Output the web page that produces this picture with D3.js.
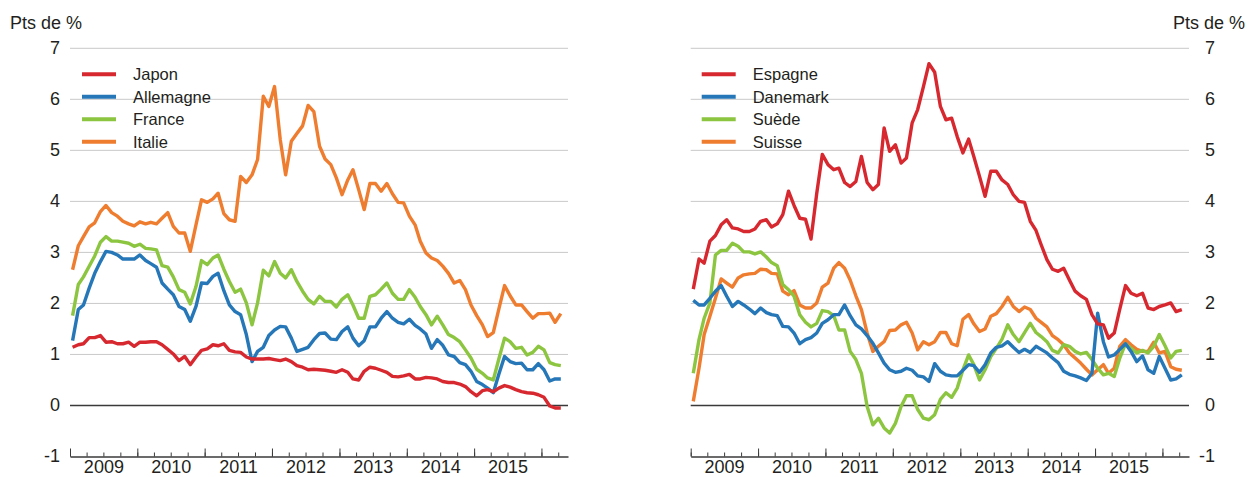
<!DOCTYPE html>
<html>
<head>
<meta charset="utf-8">
<script src="https://cdn.jsdelivr.net/npm/d3@7"></script>
<style>
  html, body { margin: 0; padding: 0; background: #fff; }
  svg { display: block; font-family: "Liberation Sans", Arial, sans-serif; }
</style>
</head>
<body>
<svg id="chart" width="1250" height="477"></svg>
<script>
// Monthly series, January 2009 to April 2016 (points in pts de %)
const firstMonth = [2009, 0];
const monthCount = 88;

const japon = [
  1.14,1.19,1.21,1.33,1.33,1.37,1.24,1.25,1.21,1.21,1.24,1.16,1.24,1.24,1.25,1.25,1.19,1.10,1.01,0.88,0.96,0.80,0.95,1.08,1.11,1.19,1.17,1.21,1.08,1.05,
  1.04,0.95,0.91,0.91,0.91,0.92,0.90,0.88,0.91,0.86,0.78,0.75,0.70,0.71,0.70,0.69,0.67,0.65,0.70,0.65,0.52,0.50,0.67,0.75,0.73,0.69,0.65,0.57,0.56,
  0.58,0.61,0.52,0.52,0.55,0.54,0.52,0.47,0.45,0.45,0.42,0.37,0.27,0.19,0.29,0.31,0.27,0.34,0.39,0.36,0.31,0.27,0.25,0.24,0.21,0.16,-0.01,-0.05,-0.05
];
const allemagne = [
  1.27,1.88,1.97,2.30,2.59,2.82,3.02,3.00,2.95,2.87,2.87,2.87,2.95,2.84,2.78,2.71,2.40,2.28,2.17,1.94,1.88,1.65,1.94,2.40,2.39,2.53,2.59,2.25,1.97,1.84,
  1.78,1.39,0.86,1.06,1.14,1.37,1.48,1.55,1.54,1.32,1.06,1.10,1.14,1.29,1.41,1.42,1.30,1.29,1.45,1.54,1.32,1.17,1.27,1.54,1.54,1.71,1.84,1.71,1.63,
  1.60,1.69,1.57,1.50,1.40,1.12,1.29,1.18,0.99,0.96,0.84,0.80,0.67,0.47,0.41,0.34,0.25,0.61,0.96,0.86,0.82,0.83,0.70,0.70,0.82,0.70,0.48,0.52,0.52
];
const france = [
  1.76,2.37,2.52,2.73,2.93,3.20,3.31,3.22,3.22,3.20,3.18,3.12,3.16,3.08,3.07,3.05,2.74,2.71,2.52,2.27,2.22,1.99,2.33,2.84,2.76,2.89,2.95,2.67,2.43,2.22,
  2.28,2.01,1.58,2.01,2.65,2.54,2.82,2.59,2.50,2.66,2.43,2.24,2.08,1.99,2.14,2.04,2.04,1.93,2.08,2.17,1.97,1.71,1.71,2.14,2.17,2.28,2.40,2.20,2.08,
  2.08,2.27,2.12,1.94,1.78,1.58,1.75,1.58,1.39,1.33,1.25,1.09,0.93,0.71,0.63,0.54,0.50,0.91,1.32,1.25,1.12,1.14,0.99,1.04,1.16,1.09,0.84,0.80,0.78
];
const italie = [
  2.66,3.13,3.31,3.50,3.58,3.80,3.92,3.78,3.71,3.61,3.56,3.52,3.60,3.56,3.59,3.56,3.67,3.78,3.51,3.38,3.38,3.02,3.54,4.03,3.98,4.05,4.16,3.76,3.64,3.61,
  4.49,4.37,4.52,4.82,6.06,5.86,6.25,5.21,4.52,5.18,5.33,5.48,5.88,5.76,5.08,4.83,4.72,4.46,4.13,4.42,4.62,4.23,3.84,4.35,4.35,4.20,4.35,4.15,3.98,
  3.97,3.71,3.54,3.22,2.99,2.89,2.84,2.73,2.59,2.40,2.45,2.27,1.97,1.76,1.58,1.35,1.43,1.89,2.35,2.15,1.97,1.97,1.84,1.71,1.80,1.80,1.81,1.63,1.80
];
const espagne = [
  2.28,2.87,2.79,3.22,3.33,3.54,3.64,3.48,3.46,3.41,3.41,3.46,3.61,3.64,3.50,3.56,3.74,4.20,3.92,3.67,3.65,3.26,4.16,4.92,4.72,4.62,4.65,4.37,4.29,4.39,
  4.88,4.37,4.23,4.33,5.44,4.98,5.11,4.75,4.85,5.54,5.80,6.25,6.70,6.53,5.86,5.60,5.63,5.27,4.95,5.22,4.88,4.49,4.10,4.59,4.59,4.42,4.33,4.13,4.00,
  3.98,3.61,3.43,3.15,2.86,2.67,2.63,2.69,2.46,2.24,2.15,2.08,1.78,1.60,1.58,1.32,1.42,1.89,2.35,2.20,2.15,2.20,1.91,1.88,1.94,1.97,2.01,1.84,1.88
];
const danemark = [
  2.06,1.97,1.97,2.10,2.24,2.35,2.14,1.94,2.04,1.97,1.89,1.80,1.91,1.82,1.78,1.76,1.55,1.54,1.42,1.21,1.29,1.33,1.42,1.61,1.68,1.78,1.78,1.97,1.76,1.58,
  1.50,1.37,1.22,1.03,0.83,0.70,0.65,0.67,0.73,0.69,0.58,0.56,0.47,0.82,0.67,0.60,0.58,0.58,0.69,0.80,0.78,0.65,0.80,1.03,1.14,1.17,1.25,1.14,1.04,
  1.10,1.04,1.16,1.10,1.03,0.93,0.84,0.67,0.61,0.58,0.54,0.49,0.63,1.81,1.25,0.95,0.99,1.10,1.21,1.06,0.86,0.97,0.70,0.63,0.96,0.73,0.50,0.52,0.60
];
const suede = [
  0.63,1.29,1.71,2.01,2.95,3.04,3.04,3.18,3.12,3.01,3.01,2.97,3.01,2.91,2.80,2.74,2.37,2.27,2.14,1.78,1.63,1.54,1.61,1.86,1.84,1.76,1.48,1.48,1.06,0.90,
  0.63,-0.02,-0.38,-0.25,-0.44,-0.54,-0.35,-0.02,0.19,0.19,-0.08,-0.25,-0.28,-0.18,0.12,0.25,0.16,0.34,0.70,0.99,0.80,0.50,0.70,0.96,1.12,1.30,1.58,1.39,1.25,
  1.43,1.61,1.43,1.35,1.25,1.08,1.03,1.19,1.16,1.06,1.01,1.04,0.90,0.73,0.60,0.63,0.57,0.93,1.21,1.12,1.03,1.08,1.03,1.16,1.39,1.17,0.93,1.06,1.08
];
const suisse = [
  0.08,0.73,1.39,1.75,2.10,2.48,2.40,2.32,2.50,2.56,2.58,2.59,2.67,2.66,2.59,2.58,2.24,2.17,2.25,1.97,1.91,1.91,2.01,2.32,2.40,2.69,2.80,2.69,2.46,2.15,
  1.88,1.42,1.06,1.16,1.25,1.47,1.48,1.58,1.63,1.42,1.09,1.25,1.19,1.25,1.43,1.43,1.21,1.17,1.69,1.78,1.60,1.45,1.50,1.75,1.80,1.94,2.12,1.94,1.84,
  1.93,1.88,1.71,1.63,1.54,1.37,1.29,1.19,1.03,0.93,0.83,0.71,0.60,0.70,0.80,0.63,0.73,1.16,1.29,1.19,1.10,1.06,1.06,1.24,1.03,1.06,0.76,0.71,0.69
];

const yTickValues = [-1, 0, 1, 2, 3, 4, 5, 6, 7];
const yearLabels = [2009, 2010, 2011, 2012, 2013, 2014, 2015];
const unitLabel = "Pts de %";

const leftSeries = [
  { name: "Japon", values: japon, color: "#d7282f" },
  { name: "Allemagne", values: allemagne, color: "#2677b8" },
  { name: "France", values: france, color: "#8cc540" },
  { name: "Italie", values: italie, color: "#ef7d30" }
];
const rightSeries = [
  { name: "Espagne", values: espagne, color: "#d7282f" },
  { name: "Danemark", values: danemark, color: "#2677b8" },
  { name: "Suède", values: suede, color: "#8cc540" },
  { name: "Suisse", values: suisse, color: "#ef7d30" }
];

const dates = d3.range(monthCount).map(i => new Date(firstMonth[0], firstMonth[1] + i, 15));

const svg = d3.select("#chart");
const TEXT = "#231f20";
const FONT = '"Liberation Sans", Arial, sans-serif';

const y = d3.scaleLinear().domain([-1, 7]).range([456.5, 48.3]);
const xDomain = [new Date(2009, 0, 1), new Date(2016, 4, 24)];

function drawPanel(cfg) {
  const x = d3.scaleTime().domain(xDomain).range([cfg.x0, cfg.x1]);
  const g = svg.append("g");

  // horizontal grid
  g.append("g").selectAll("line")
    .data(yTickValues.filter(v => v > 0))
    .join("line")
    .attr("x1", cfg.x0).attr("x2", cfg.x1)
    .attr("y1", d => y(d)).attr("y2", d => y(d))
    .attr("stroke", "#c9c9c9").attr("stroke-width", 1);

  // zero line
  g.append("line")
    .attr("x1", cfg.x0).attr("x2", cfg.x1)
    .attr("y1", y(0)).attr("y2", y(0))
    .attr("stroke", "#3a3a3a").attr("stroke-width", 1.3);

  // value labels, right-aligned at labelX
  const ya = g.append("g")
    .attr("transform", `translate(${cfg.labelX},0)`)
    .call(d3.axisLeft(y).tickValues(yTickValues).tickSize(0).tickPadding(0)
      .tickFormat(d => String(d)));
  ya.select(".domain").remove();
  ya.selectAll("text")
    .attr("font-size", 18).attr("fill", TEXT)
    .attr("font-family", FONT)
    .attr("dy", "0.3em");

  // time axis: years, quarters, labels
  const axisG = g.append("g").attr("transform", `translate(0,${y(-1)})`);
  const years = d3.timeYear.range(xDomain[0], xDomain[1]);
  const quarters = d3.timeMonth.every(3).range(xDomain[0], xDomain[1]);
  const mids = yearLabels.map(yr => new Date(yr, 6, 1));

  const minor = axisG.append("g")
    .call(d3.axisBottom(x).tickValues(quarters).tickSizeInner(-4).tickSizeOuter(0).tickFormat(""));
  minor.select(".domain").remove();
  axisG.append("g")
    .call(d3.axisBottom(x).tickValues(years).tickSizeInner(-8).tickSizeOuter(0).tickFormat(""));
  const lab = axisG.append("g")
    .call(d3.axisBottom(x).tickValues(mids).tickSize(0).tickPadding(3.5).tickFormat(d3.timeFormat("%Y")));
  lab.select(".domain").remove();
  lab.selectAll("text").attr("font-size", 18).attr("fill", TEXT)
    .attr("font-family", FONT);
  axisG.selectAll(".domain").attr("stroke", "#3a3a3a").attr("stroke-width", 1.3);
  axisG.selectAll(".tick line").attr("stroke", "#3a3a3a").attr("stroke-width", 1);

  // series lines
  const line = d3.line()
    .x((d, i) => x(dates[i]))
    .y(d => y(d));
  g.append("g").selectAll("path")
    .data(cfg.series.slice().reverse())
    .join("path")
    .attr("d", s => line(s.values))
    .attr("fill", "none")
    .attr("stroke", s => s.color)
    .attr("stroke-width", 3.4)
    .attr("stroke-linejoin", "round");

  // legend
  const leg = g.append("g").selectAll("g")
    .data(cfg.series)
    .join("g")
    .attr("transform", (d, i) => `translate(${cfg.legendX},${74.3 + i * 22.5})`);
  leg.append("line")
    .attr("x1", 0).attr("x2", 34)
    .attr("stroke", d => d.color).attr("stroke-width", 4);
  leg.append("text")
    .attr("x", 51).attr("dy", "0.35em")
    .attr("font-size", 16.5).attr("fill", TEXT)
    .text(d => d.name);

  // unit label
  svg.append("text")
    .attr("x", cfg.unitX).attr("y", 29)
    .attr("text-anchor", cfg.unitAnchor)
    .attr("font-size", 18).attr("fill", TEXT)
    .text(unitLabel);
}

drawPanel({ x0: 70, x1: 568, labelX: 60, series: leftSeries,
  legendX: 82, unitX: 10, unitAnchor: "start" });
drawPanel({ x0: 690.7, x1: 1189, labelX: 1215, series: rightSeries,
  legendX: 701.7, unitX: 1245, unitAnchor: "end" });
</script>
</body>
</html>
